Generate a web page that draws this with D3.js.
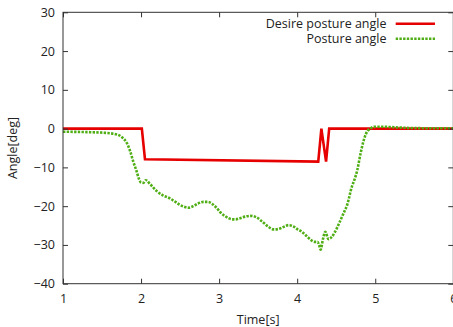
<!DOCTYPE html>
<html>
<head>
<meta charset="utf-8">
<script src="https://cdn.jsdelivr.net/npm/d3@7"></script>
<style>
  html, body { margin: 0; padding: 0; background: #fff; overflow: hidden; }
  svg { display: block; }
  text { font-family: "Open Sans", "DejaVu Sans", sans-serif; fill: #222; }
</style>
</head>
<body>
<svg id="chart" width="453" height="327"></svg>
<script>
// Time axis ticks and angle axis ticks
const xTicks = [1, 2, 3, 4, 5, 6];
const yTicks = [-40, -30, -20, -10, 0, 10, 20, 30];

// Desired posture angle (step command with a short glitch near t=4.3)
const desireTime  = [1.0, 2.01, 2.05, 4.27, 4.31, 4.37, 4.41, 6.0];
const desireAngle = [0.0, 0.0, -7.9, -8.5, 0.0, -8.5, 0.0, 0.0];

// Measured posture angle
const postureTime  = [1.0, 1.3, 1.55, 1.69, 1.76, 1.82, 1.86, 1.90, 1.94, 1.97, 2.0, 2.03, 2.06, 2.12, 2.2, 2.28, 2.37, 2.44, 2.5, 2.56, 2.61, 2.67, 2.73, 2.8, 2.86, 2.91, 2.95, 3.0, 3.03, 3.08, 3.12, 3.17, 3.21, 3.27, 3.33, 3.4, 3.48, 3.57, 3.63, 3.7, 3.76, 3.82, 3.89, 3.95, 4.0, 4.06, 4.12, 4.17, 4.22, 4.26, 4.28, 4.30, 4.33, 4.36, 4.40, 4.44, 4.48, 4.54, 4.59, 4.64, 4.70, 4.74, 4.77, 4.81, 4.85, 4.88, 4.91, 4.95, 5.0, 5.1, 5.19, 5.4, 5.7, 6.0];
const postureAngle = [-0.8, -0.9, -1.1, -1.5, -2.3, -3.8, -5.8, -8.5, -10.8, -12.8, -13.9, -14.0, -13.3, -14.4, -16.1, -17.2, -18.0, -18.9, -19.7, -20.2, -20.4, -20.0, -19.3, -18.9, -18.9, -19.4, -20.1, -21.2, -21.9, -22.6, -23.1, -23.4, -23.4, -23.1, -22.7, -22.5, -22.9, -24.3, -25.3, -26.0, -25.9, -25.4, -24.9, -25.2, -25.9, -26.6, -27.7, -28.6, -29.2, -29.2, -30.0, -31.2, -28.5, -26.6, -28.5, -28.0, -26.8, -24.3, -22.0, -19.7, -15.0, -12.8, -10.7, -6.6, -3.2, -1.4, -0.4, 0.2, 0.5, 0.5, 0.4, 0.2, 0.1, 0.1];

const svg = d3.select("#chart");
const margin = { left: 63, right: 0, top: 12.3, bottom: 43.3 };
const W = 453, H = 327;

const x = d3.scaleLinear().domain([1, 6]).range([63, 453.3]);
const y = d3.scaleLinear().domain([-40, 30]).range([283.7, 12.3]);

const tickLen = 5;
const frameColor = "#333";

// Curves
const line = d3.line().x((d, i, arr) => x(d[0])).y(d => y(d[1]));

const desireData = desireTime.map((t, i) => [t, desireAngle[i]]);
const postureData = postureTime.map((t, i) => [t, postureAngle[i]]);

const plot = svg.append("g");
plot.append("defs").append("clipPath").attr("id", "clip")
  .append("rect").attr("x", x(1)).attr("y", y(30)).attr("width", x(6) - x(1)).attr("height", y(-40) - y(30));

const curves = plot.append("g").attr("clip-path", "url(#clip)");
curves.append("path")
  .datum(desireData)
  .attr("d", line)
  .attr("fill", "none")
  .attr("stroke", "#e60000")
  .attr("stroke-width", 2.6)
  .attr("stroke-linejoin", "miter");

curves.append("path")
  .datum(postureData)
  .attr("d", d3.line().curve(d3.curveMonotoneX).x(d => x(d[0])).y(d => y(d[1])))
  .attr("fill", "none")
  .attr("stroke", "#4fae14")
  .attr("stroke-width", 2.6)
  .attr("stroke-dasharray", "2.4,1.3");

// Frame
svg.append("rect")
  .attr("x", x(1)).attr("y", y(30))
  .attr("width", x(6) - x(1)).attr("height", y(-40) - y(30))
  .attr("fill", "none").attr("stroke", frameColor).attr("stroke-width", 1);

// Axes with inward ticks (mirrored on top/right)
const xAxisB = d3.axisBottom(x).tickValues(xTicks).tickSize(-tickLen).tickPadding(10).tickFormat(d3.format("d"));
const xAxisT = d3.axisTop(x).tickValues(xTicks).tickSize(-tickLen).tickFormat("");
const yAxisL = d3.axisLeft(y).tickValues(yTicks).tickSize(-tickLen).tickPadding(8).tickFormat(d3.format("d"));
const yAxisR = d3.axisRight(y).tickValues(yTicks).tickSize(-tickLen).tickFormat("");

function style(g) {
  g.select(".domain").remove();
  g.selectAll(".tick line").attr("stroke", frameColor);
  g.selectAll(".tick text").attr("font-size", 12.5).attr("fill", "#222")
    .style("font-family", '"Open Sans", "DejaVu Sans", sans-serif');
}
svg.append("g").attr("transform", `translate(0,${y(-40)})`).call(xAxisB).call(style);
svg.append("g").attr("transform", `translate(0,${y(30)})`).call(xAxisT).call(style);
svg.append("g").attr("transform", `translate(${x(1)},0)`).call(yAxisL).call(style);
svg.append("g").attr("transform", `translate(${x(6)},0)`).call(yAxisR).call(style);

// Axis titles
svg.append("text")
  .attr("x", (x(1) + x(6)) / 2).attr("y", 324)
  .attr("text-anchor", "middle").attr("font-size", 12.5)
  .text("Time[s]");
svg.append("text")
  .attr("transform", `translate(17,${(y(30) + y(-40)) / 2}) rotate(-90)`)
  .attr("text-anchor", "middle").attr("font-size", 12.5)
  .text("Angle[deg]");

// Legend
const legend = [
  { label: "Desire posture angle", color: "#e60000", dash: null, y: 23.7 },
  { label: "Posture angle", color: "#4fae14", dash: "2.4,1.3", y: 38.7 }
];
const lg = svg.append("g");
legend.forEach(d => {
  lg.append("text")
    .attr("x", 386.5).attr("y", d.y).attr("dy", "0.35em")
    .attr("text-anchor", "end").attr("font-size", 12.5)
    .text(d.label);
  lg.append("line")
    .attr("x1", 395.7).attr("x2", 435).attr("y1", d.y).attr("y2", d.y)
    .attr("stroke", d.color).attr("stroke-width", 2.6)
    .attr("stroke-dasharray", d.dash);
});
</script>
</body>
</html>
